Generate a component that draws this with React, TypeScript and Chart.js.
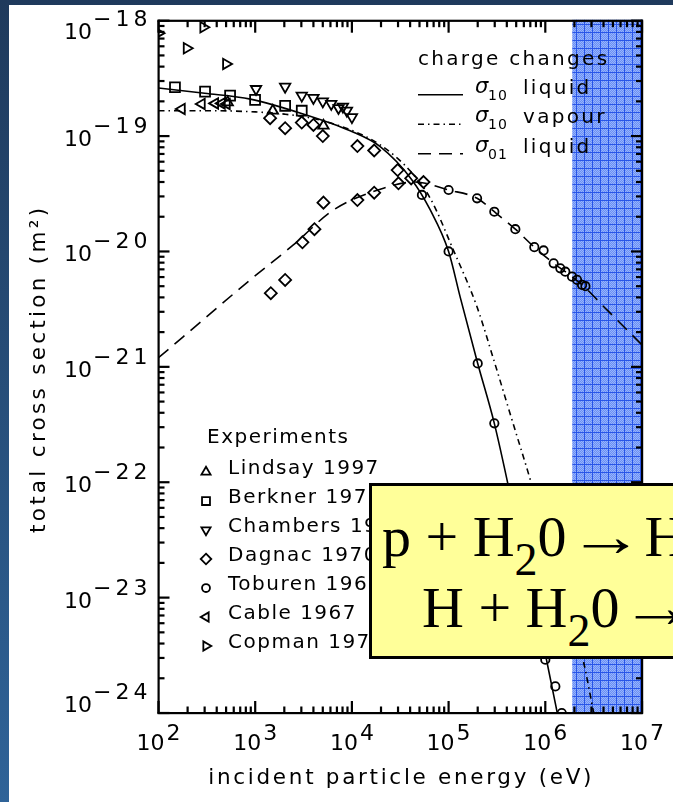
import React, { useEffect, useRef } from "react";
import { Chart, registerables } from "chart.js";

Chart.register(...registerables);

// ---------- axis ranges and ticks ----------
const X_MIN = 1e2;
const X_MAX = 1e7;
const Y_MIN = 1e-24;
const Y_MAX = 1e-18;
const xDecades = [2, 3, 4, 5, 6, 7];
const yDecades = [-24, -23, -22, -21, -20, -19, -18];
const minorSteps = [1, 2, 3, 4, 5, 6, 7, 8, 9];
const bandStart = 1.9e6; // shaded energy band, up to X_MAX

// ---------- model curves ----------
const liquid10E = [100, 300, 891, 3155, 9600, 19600, 41800, 64600, 1e5, 1.32e5, 2e5, 2.97e5, 5e5, 7.08e5, 1.03e6, 1.33e6, 1.5e6];
const liquid10S = [2.61e-19, 2.35e-19, 2.09e-19, 1.55e-19, 1.11e-19, 8.1e-20, 4.17e-20, 2.29e-20, 1.0e-20, 4.0e-21, 1.07e-21, 3.24e-22, 4.5e-23, 1.2e-23, 2.88e-24, 1.0e-24, 6e-25];

const vapour10E = [100, 300, 1000, 2000, 4000, 1e4, 2e4, 4e4, 6.46e4, 1.12e5, 1.97e5, 2.93e5, 4.53e5, 7.0e5, 1.2e6, 2.46e6, 3.17e6, 3.6e6];
const vapour10S = [1.66e-19, 1.66e-19, 1.62e-19, 1.55e-19, 1.42e-19, 1.12e-19, 8.3e-20, 5.0e-20, 2.89e-20, 1.03e-20, 3.3e-21, 1.15e-21, 3.46e-22, 1.05e-22, 2.2e-23, 2.88e-24, 1.0e-24, 6e-25];

const liquid01E = [100, 181, 885, 2480, 6460, 21200, 45000, 1e5, 1.97e5, 2.97e5, 4.9e5, 7.7e5, 1.22e6, 1.61e6, 2.4e6, 4.37e6, 1e7];
const liquid01S = [1.2e-21, 1.83e-21, 5.66e-21, 1.14e-20, 2.29e-20, 3.53e-20, 4.0e-20, 3.41e-20, 2.89e-20, 2.21e-20, 1.56e-20, 1.09e-20, 7.9e-21, 6.68e-21, 5.13e-21, 3.1e-21, 1.55e-21];

// ---------- experiments ----------
const lindsayE = [520, 1520, 5080];
const lindsayS = [1.96e-19, 1.66e-19, 1.23e-19];

const berknerE = [148, 303, 550, 997, 2040, 3030];
const berknerS = [2.65e-19, 2.43e-19, 2.24e-19, 2.06e-19, 1.83e-19, 1.66e-19];

const chambersE = [1020, 2040, 3030, 4000, 5000, 6110, 7270, 8070, 8880, 10000];
const chambersS = [2.56e-19, 2.68e-19, 2.24e-19, 2.14e-19, 2.0e-19, 1.9e-19, 1.75e-19, 1.8e-19, 1.66e-19, 1.46e-19];

const dagnacE = [1426, 2040, 3030, 4000, 5000, 11400, 17000, 29700, 30300, 41000, 55000, 1450, 2040, 3080, 4100, 5080, 11400, 17000];
const dagnacS = [1.43e-19, 1.17e-19, 1.31e-19, 1.25e-19, 1.0e-19, 8.2e-20, 7.5e-20, 5.08e-20, 3.9e-20, 4.3e-20, 4.0e-20, 4.35e-21, 5.66e-21, 1.2e-20, 1.56e-20, 2.65e-20, 2.79e-20, 3.23e-20];

const toburenE = [5.3e4, 1e5, 2e5, 2.97e5, 1.0e6, 1.27e6, 1.48e6, 1e5, 1.97e5, 2.97e5, 4.9e5, 7.7e5, 9.6e5, 1.22e6, 1.43e6, 1.61e6, 1.89e6, 2.13e6, 2.4e6, 2.6e6];
const toburenS = [3.09e-20, 1.0e-20, 1.07e-21, 3.24e-22, 2.9e-24, 1.7e-24, 1.0e-24, 3.41e-20, 2.89e-20, 2.21e-20, 1.56e-20, 1.09e-20, 1.02e-20, 7.9e-21, 7.15e-21, 6.68e-21, 6.05e-21, 5.67e-21, 5.13e-21, 5.0e-21];

const cableE = [174, 280, 385, 451, 508];
const cableS = [1.72e-19, 1.9e-19, 1.92e-19, 1.92e-19, 1.9e-19];

const copmanE = [100, 196, 291, 500];
const copmanS = [7.8e-19, 5.77e-19, 8.77e-19, 4.22e-19];

// ---------- legend texts ----------
const curveLegendTitle = "charge changes";
const curveLegend = [
  { sub: "10", word: "liquid", dash: [] as number[] },
  { sub: "10", word: "vapour", dash: [6, 4, 1.5, 4] },
  { sub: "01", word: "liquid", dash: [13, 8] },
];
const expTitle = "Experiments";
const expLegend = [
  { label: "Lindsay 1997", shape: "up" },
  { label: "Berkner 1970", shape: "square" },
  { label: "Chambers 1965", shape: "down" },
  { label: "Dagnac 1970", shape: "diamond" },
  { label: "Toburen 1968", shape: "circle" },
  { label: "Cable 1967", shape: "left" },
  { label: "Copman 1970", shape: "right" },
];
const xTitle = "incident particle energy (eV)";
const yTitle = "total cross section (m\u00B2)";

const W = 673;
const H = 802;
const FONT = '"DejaVu Sans", sans-serif';

const pts = (e: number[], s: number[]) => e.map((v, i) => ({ x: v, y: s[i] }));

function curve(e: number[], s: number[], dash: number[]) {
  return {
    data: pts(e, s),
    showLine: true,
    pointRadius: 0,
    borderColor: "#000",
    borderWidth: 1.6,
    borderDash: dash,
    cubicInterpolationMode: "monotone" as const,
    clip: 0,
  };
}

function markers(e: number[], s: number[], style: string, rotation: number, r: number) {
  return {
    data: pts(e, s),
    showLine: false,
    pointStyle: style,
    rotation,
    pointRadius: r,
    pointBorderColor: "#000",
    borderColor: "#000",
    pointBackgroundColor: "rgba(0,0,0,0)",
    backgroundColor: "rgba(0,0,0,0)",
    pointBorderWidth: 1.8,
    clip: 0,
  };
}

function drawShape(ctx: CanvasRenderingContext2D, shape: string, x: number, y: number, r: number) {
  ctx.beginPath();
  const tri = (rot: number) => {
    for (let k = 0; k < 3; k++) {
      const a = rot + (k * 2 * Math.PI) / 3;
      const px = x + Math.sin(a) * r;
      const py = y - Math.cos(a) * r;
      if (k === 0) ctx.moveTo(px, py);
      else ctx.lineTo(px, py);
    }
    ctx.closePath();
  };
  if (shape === "up") tri(0);
  else if (shape === "down") tri(Math.PI);
  else if (shape === "left") tri(-Math.PI / 2);
  else if (shape === "right") tri(Math.PI / 2);
  else if (shape === "square") {
    const h = r * 0.75;
    ctx.rect(x - h, y - h, 2 * h, 2 * h);
  } else if (shape === "diamond") {
    ctx.moveTo(x, y - r);
    ctx.lineTo(x + r, y);
    ctx.lineTo(x, y + r);
    ctx.lineTo(x - r, y);
    ctx.closePath();
  } else if (shape === "circle") {
    ctx.arc(x, y, r * 0.75, 0, Math.PI * 2);
  }
  ctx.stroke();
}

const overlayPlugin = {
  id: "overlay",
  afterDraw(chart: any) {
    const { ctx, chartArea: a, scales } = chart;
    const xs = scales.x;
    const ys = scales.y;
    ctx.save();
    ctx.globalCompositeOperation = "source-over";
    ctx.globalAlpha = 1;
    ctx.setLineDash([]);
    ctx.strokeStyle = "#000";
    ctx.fillStyle = "#000";

    const L = a.left, R = a.right, T = a.top, B = a.bottom;

    // ticks (inside, all four sides), positioned by the scales
    const tw = 2.2;
    xDecades.forEach((d) => {
      minorSteps.forEach((m) => {
        const v = m * Math.pow(10, d);
        if (v <= X_MAX * 1.0001) {
          const px = xs.getPixelForValue(v);
          const len = m === 1 ? 12 : 6.5;
          ctx.fillRect(px - tw / 2, B - len, tw, len);
          ctx.fillRect(px - tw / 2, T, tw, len);
        }
      });
    });
    yDecades.forEach((d) => {
      minorSteps.forEach((m) => {
        const v = m * Math.pow(10, d);
        if (v <= Y_MAX * 1.0001) {
          const py = ys.getPixelForValue(v);
          const len = m === 1 ? 11 : 6;
          ctx.fillRect(L, py - tw / 2, len, tw);
          ctx.fillRect(R - len, py - tw / 2, len, tw);
        }
      });
    });

    // frame
    ctx.fillRect(L - 1, T - 1, R - L + 2, 2.2);
    ctx.fillRect(L - 1, B - 1, R - L + 2, 2.2);
    ctx.fillRect(L - 1, T - 1, 2.2, B - T + 2);
    ctx.fillRect(R - 1, T - 1, 2.2, B - T + 2);

    // tick labels
    ctx.font = `22px ${FONT}`;
    ctx.textBaseline = "alphabetic";
    yDecades.forEach((d) => {
      const py = ys.getPixelForValue(Math.pow(10, d));
      const base = Math.min(Math.max(py + 10, T + 18.6), B - 1);
      const exp = "\u2212" + String(-d);
      ctx.save();
      ctx.textAlign = "right";
      ctx.letterSpacing = "4px";
      ctx.fillText(exp, L - 7, base - 13);
      const we = ctx.measureText(exp).width;
      ctx.letterSpacing = "0px";
      ctx.fillText("10", L - 7 - we - 1, base);
      ctx.restore();
    });
    xDecades.forEach((d) => {
      const px = xs.getPixelForValue(Math.pow(10, d));
      const exp = String(d);
      const w10 = ctx.measureText("10").width;
      const we = ctx.measureText(exp).width;
      const left = px - (w10 + 2 + we) / 2;
      ctx.textAlign = "left";
      ctx.fillText("10", left, B + 37);
      ctx.fillText(exp, left + w10 + 2, B + 27);
    });

    // axis titles
    ctx.save();
    ctx.letterSpacing = "2.7px";
    ctx.textAlign = "center";
    ctx.font = `21.5px ${FONT}`;
    ctx.fillText(xTitle, (L + R) / 2 + 1, B + 71);
    ctx.translate(45, (T + B) / 2 + 2);
    ctx.rotate(-Math.PI / 2);
    ctx.letterSpacing = "3.3px";
    ctx.fillText(yTitle, 0, 0);
    ctx.restore();

    // curve legend (top right)
    ctx.save();
    ctx.textAlign = "left";
    ctx.font = `20px ${FONT}`;
    ctx.letterSpacing = "2.3px";
    const lx = 418;
    ctx.fillText(curveLegendTitle, lx, T + 44);
    curveLegend.forEach((it, i) => {
      const yb = T + 73 + i * 29.5;
      ctx.save();
      ctx.lineWidth = 1.6;
      ctx.setLineDash(it.dash);
      ctx.beginPath();
      ctx.moveTo(lx, yb + 1);
      ctx.lineTo(lx + 45, yb + 1);
      ctx.stroke();
      ctx.restore();
      ctx.font = `italic 21px ${FONT}`;
      ctx.letterSpacing = "0px";
      ctx.fillText("\u03C3", lx + 57, yb - 1);
      ctx.font = `14px ${FONT}`;
      ctx.letterSpacing = "1px";
      ctx.fillText(it.sub, lx + 70, yb + 6);
      ctx.font = `20px ${FONT}`;
      ctx.letterSpacing = "2.3px";
      ctx.fillText(it.word, lx + 105, yb);
    });
    ctx.restore();

    // experiments legend (lower left)
    ctx.save();
    ctx.textAlign = "left";
    ctx.font = `20px ${FONT}`;
    ctx.letterSpacing = "1.5px";
    ctx.fillText(expTitle, 207, 443);
    ctx.lineWidth = 1.8;
    expLegend.forEach((it, i) => {
      const yb = 474 + i * 29;
      ctx.fillText(it.label, 228, yb);
      drawShape(ctx, it.shape, 206, yb - 2, 5.3);
    });
    ctx.restore();

    // shaded band (multiplied over everything)
    const xb = xs.getPixelForValue(bandStart);
    const pc = document.createElement("canvas");
    pc.width = 8;
    pc.height = 8;
    const p = pc.getContext("2d")!;
    p.fillStyle = "rgb(105,142,246)";
    p.fillRect(0, 0, 8, 8);
    p.fillStyle = "rgb(150,180,251)";
    for (let i = 0; i < 8; i++) for (let j = 0; j < 8; j++) if ((i + j) % 2 === 0) p.fillRect(i, j, 1, 1);
    p.fillStyle = "rgb(40,85,232)";
    p.fillRect(0, 0, 8, 1);
    p.fillRect(0, 0, 1, 8);
    ctx.globalCompositeOperation = "multiply";
    ctx.fillStyle = ctx.createPattern(pc, "repeat");
    ctx.fillRect(xb, T - 1, R - xb + 1, B - T + 2);
    ctx.restore();
  },
};

export default function App() {
  const ref = useRef<HTMLCanvasElement>(null);
  useEffect(() => {
    const canvas = ref.current!;
    const chart = new Chart(canvas, {
      type: "scatter",
      data: {
        datasets: [
          curve(liquid10E, liquid10S, []),
          curve(vapour10E, vapour10S, [6, 4, 1.5, 4]),
          curve(liquid01E, liquid01S, [13, 8]),
          markers(lindsayE, lindsayS, "triangle", 0, 6),
          markers(berknerE, berknerS, "rect", 0, 7),
          markers(chambersE, chambersS, "triangle", 180, 6),
          markers(dagnacE, dagnacS, "rectRot", 0, 6),
          markers(toburenE, toburenS, "circle", 0, 4.2),
          markers(cableE, cableS, "triangle", -90, 6),
          markers(copmanE, copmanS, "triangle", 90, 6),
        ] as any,
      },
      options: {
        responsive: false,
        devicePixelRatio: 1,
        animation: false,
        events: [],
        layout: { padding: { top: 20.7, right: 31, bottom: 0, left: 0 } },
        plugins: { legend: { display: false }, tooltip: { enabled: false } },
        scales: {
          x: {
            type: "logarithmic",
            min: X_MIN,
            max: X_MAX,
            grid: { display: false, drawTicks: false },
            border: { display: false },
            ticks: { display: false },
            afterFit: (s: any) => {
              s.height = 89;
            },
          },
          y: {
            type: "logarithmic",
            min: Y_MIN,
            max: Y_MAX,
            grid: { display: false, drawTicks: false },
            border: { display: false },
            ticks: { display: false },
            afterFit: (s: any) => {
              s.width = 158.5;
            },
          },
        },
      } as any,
      plugins: [overlayPlugin],
    });
    return () => chart.destroy();
  }, []);

  const lineStyle: React.CSSProperties = {
    position: "absolute",
    whiteSpace: "nowrap",
    fontFamily: '"Liberation Serif", "Times New Roman", serif',
    fontSize: 58,
    lineHeight: "58px",
    color: "#000",
  };
  const sub: React.CSSProperties = { fontSize: 46, position: "relative", top: 19 };
  const arrow: React.CSSProperties = {
    display: "inline-block",
    transform: "scaleX(1.3)",
    margin: "0 10px",
  };

  return (
    <div
      style={{
        position: "absolute",
        left: 0,
        top: 0,
        width: W,
        height: H,
        overflow: "hidden",
        background: "linear-gradient(#1f3a5c, #2f6398)",
      }}
    >
      <div style={{ position: "absolute", left: 8.5, top: 5, right: 0, bottom: 0, background: "#fff" }} />
      <canvas
        ref={ref}
        width={W}
        height={H}
        style={{ position: "absolute", left: 0, top: 0, width: W, height: H }}
      />
      <div
        style={{
          position: "absolute",
          left: 369,
          top: 483,
          width: 420,
          height: 176,
          boxSizing: "border-box",
          background: "#ffff99",
          border: "3px solid #000",
        }}
      >
        <div style={{ ...lineStyle, left: 10, top: 22 }}>
          p + H<span style={sub}>2</span>0<span style={arrow}>→</span>H
        </div>
        <div style={{ ...lineStyle, left: 50, top: 93 }}>
          H + H<span style={sub}>2</span>0<span style={arrow}>→</span>
        </div>
      </div>
    </div>
  );
}
